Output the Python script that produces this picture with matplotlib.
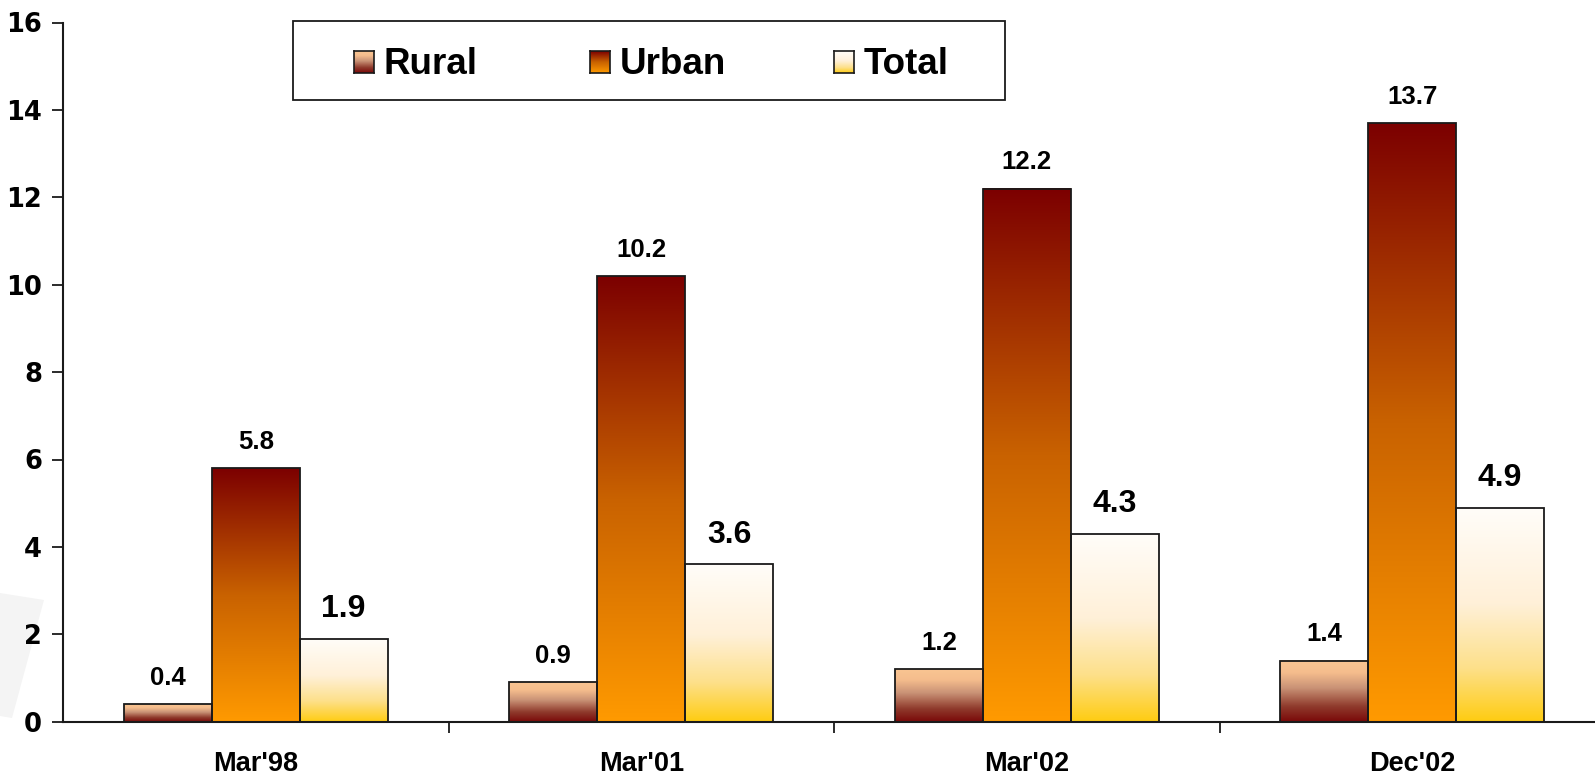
import matplotlib
matplotlib.use("Agg")
import matplotlib.pyplot as plt
import numpy as np
from matplotlib.colors import LinearSegmentedColormap
from matplotlib.patches import Rectangle, Polygon

categories = ["Mar'98", "Mar'01", "Mar'02", "Dec'02"]
rural = [0.4, 0.9, 1.2, 1.4]
urban = [5.8, 10.2, 12.2, 13.7]
total = [1.9, 3.6, 4.3, 4.9]
series_names = ["Rural", "Urban", "Total"]
y_ticks = [0, 2, 4, 6, 8, 10, 12, 14, 16]

W, H = 1595, 776
fig = plt.figure(figsize=(W / 100, H / 100), dpi=100)

# gradient colour maps, listed bottom -> top
cmaps = {
    "Rural": LinearSegmentedColormap.from_list("rural", [(0, "#7a0808"), (0.25, "#8f3a2c"), (0.55, "#c99276"), (0.8, "#f5bd8d"), (1, "#f9c592")]),
    "Urban": LinearSegmentedColormap.from_list("urban", [(0, "#ff9a00"), (0.5, "#c96200"), (1, "#7c0000")]),
    "Total": LinearSegmentedColormap.from_list("total", [(0, "#ffcc11"), (0.25, "#fde08a"), (0.55, "#fff0d8"), (1, "#fffdf9")]),
}

# faint backdrop shape in the lower-left corner
fig.add_artist(Polygon([(0 / W, 1 - 593 / H), (44 / W, 1 - 600 / H), (12 / W, 1 - 718 / H), (0 / W, 1 - 716 / H)],
                       closed=True, transform=fig.transFigure, facecolor="#f4f4f4", edgecolor="none", zorder=0))

ax = fig.add_axes([63 / W, 54.3 / H, 1542 / W, 699.2 / H])
ax.patch.set_alpha(0)

bw = 0.228
offsets = [-bw, 0, bw]
grad = np.linspace(0, 1, 256).reshape(-1, 1)

for name, vals, off in zip(series_names, [rural, urban, total], offsets):
    xs = np.arange(len(categories)) + off
    bars = ax.bar(xs, vals, width=bw, facecolor="none", edgecolor="#1a1a1a", linewidth=1.3, zorder=3)
    for b in bars:
        x0, y0, w, h = b.get_x(), b.get_y(), b.get_width(), b.get_height()
        ax.imshow(grad, cmap=cmaps[name], origin="lower", aspect="auto",
                  extent=[x0, x0 + w, y0, y0 + h], zorder=2, interpolation="bilinear")
        label_size = 23 if name == "Total" else 18.5
        ax.text(x0 + w / 2, h + 0.33, f"{h:.1f}", ha="center", va="bottom",
                fontsize=label_size, fontweight="bold", family="Liberation Sans", zorder=4)

ax.set_xlim(-0.5, 3.5)
ax.set_ylim(0, 16)
ax.set_yticks(y_ticks)
ax.set_yticklabels([str(t) for t in y_ticks], fontsize=18.5, fontweight="bold", family="DejaVu Sans")
ax.set_xticks(range(len(categories)))
ax.set_xticklabels(categories, fontsize=19.5, fontweight="bold", family="Liberation Sans")
ax.set_xticks([0.5, 1.5, 2.5], minor=True)
ax.tick_params(axis="x", which="major", length=0, pad=21)
ax.tick_params(axis="x", which="minor", length=8, width=1.3, direction="out", color="#1a1a1a")
ax.tick_params(axis="y", length=8, width=1.3, direction="out", pad=7, color="#1a1a1a")
for s in ["top", "right"]:
    ax.spines[s].set_visible(False)
for s in ["left", "bottom"]:
    ax.spines[s].set_linewidth(1.5)
    ax.spines[s].set_color("#1a1a1a")
ax.spines["left"].set_zorder(5)

# legend box with gradient swatches
fig.add_artist(Rectangle((293 / W, 1 - 100 / H), 712 / W, 79 / H, transform=fig.transFigure,
                         facecolor="white", edgecolor="#1a1a1a", linewidth=1.3, zorder=6))
sw_x = [354, 590, 834]
for name, sx in zip(series_names, sw_x):
    sax = fig.add_axes([sx / W, 1 - 73 / H, 20 / W, 22 / H], zorder=7)
    sax.imshow(grad, cmap=cmaps[name], origin="lower", aspect="auto", extent=[0, 1, 0, 1])
    sax.set_xticks([]); sax.set_yticks([])
    for sp in sax.spines.values():
        sp.set_linewidth(1.2); sp.set_color("#1a1a1a")
    fig.text((sx + 30) / W, 1 - 65 / H, name, ha="left", va="center", fontsize=26.5,
             fontweight="bold", family="Liberation Sans", zorder=8)

fig.savefig("out.png", dpi=100)
